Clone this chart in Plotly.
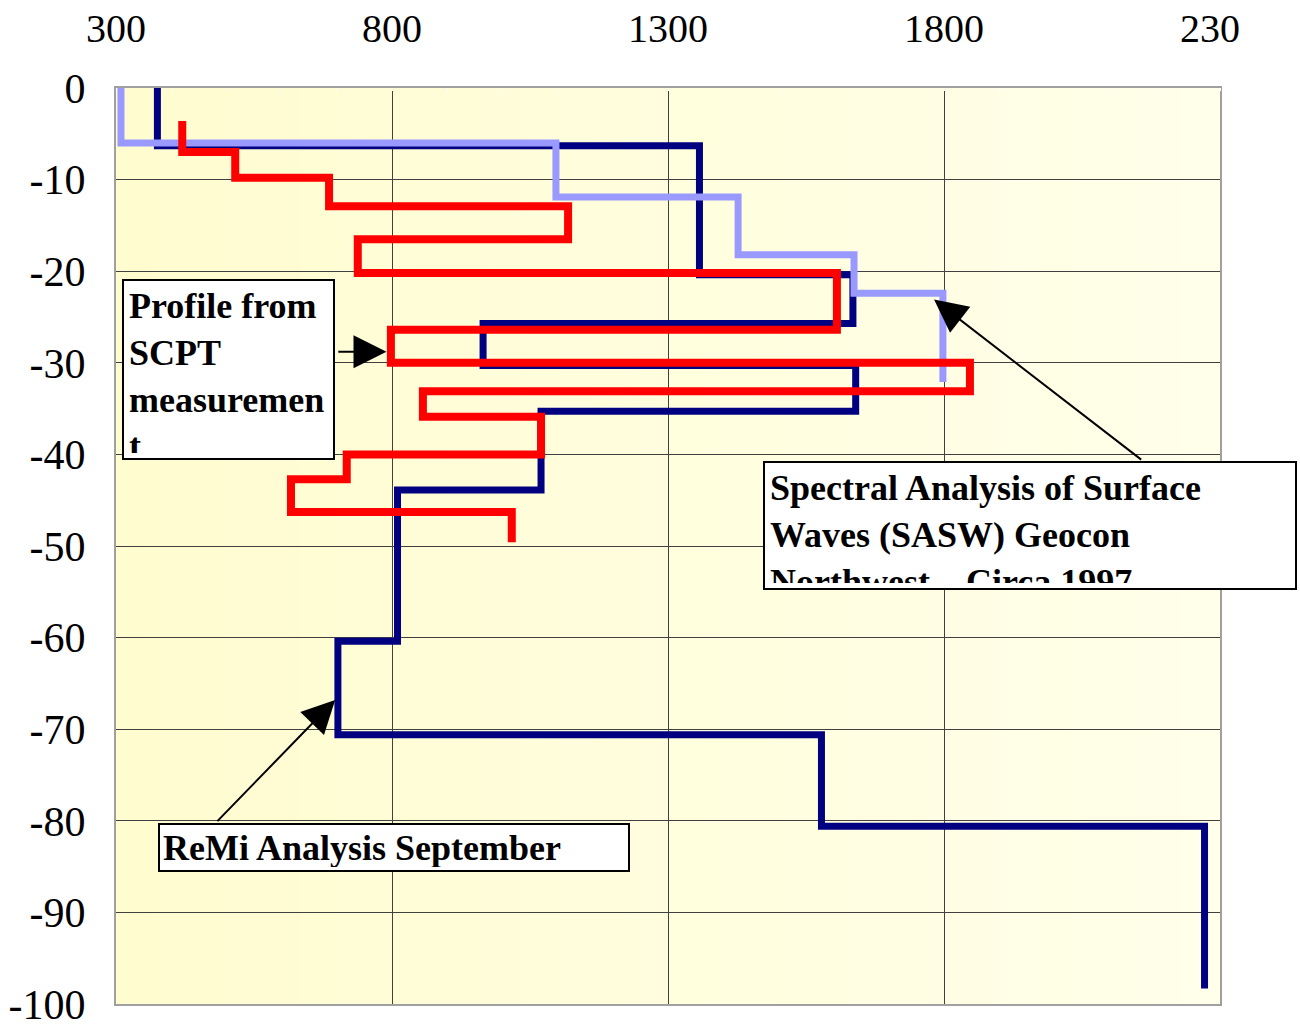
import plotly.graph_objects as go

# ---- data (velocity in x, depth in y) ----
remi_x = [375, 375, 1357, 1357, 1635, 1635, 965, 965, 1640, 1640, 1070, 1070, 810, 810, 702, 702, 1578, 1578, 2272, 2272]
remi_y = [0, -6.3, -6.3, -20.4, -20.4, -25.7, -25.7, -30.3, -30.3, -35.3, -35.3, -43.9, -43.9, -60.4, -60.4, -70.6, -70.6, -80.6, -80.6, -98.3]

sasw_x = [309, 309, 1097, 1097, 1427, 1427, 1637, 1637, 1798, 1798]
sasw_y = [0, -6.0, -6.0, -11.9, -11.9, -18.2, -18.2, -22.4, -22.4, -32.1]

scpt_x = [420, 420, 516, 516, 686, 686, 1119, 1119, 738, 738, 1606, 1606, 798, 798, 1847, 1847, 856, 856, 1070, 1070, 718, 718, 617, 617, 1017, 1017]
scpt_y = [-3.6, -7.0, -7.0, -9.8, -9.8, -12.9, -12.9, -16.5, -16.5, -20.2, -20.2, -26.4, -26.4, -30.0, -30.0, -33.1, -33.1, -35.9, -35.9, -40.0, -40.0, -42.7, -42.7, -46.3, -46.3, -49.6]

x_ticks = [300, 800, 1300, 1800, 2300]
x_ticklabels = ["300", "800", "1300", "1800", "2300"]
y_ticks = [0, -10, -20, -30, -40, -50, -60, -70, -80, -90, -100]
y_ticklabels = ["0", "-10", "-20", "-30", "-40", "-50", "-60", "-70", "-80", "-90", "-100"]

label_scpt = "<b>Profile from<br>SCPT<br>measuremen<br>t</b>"
label_sasw = "<b>Spectral Analysis of Surface<br>Waves (SASW) Geocon<br>Northwest    Circa 1997</b>"
label_remi = "<b>ReMi Analysis September</b>"

FONT = "Liberation Serif, Times New Roman, serif"

fig = go.Figure()
fig.add_trace(go.Scatter(x=remi_x, y=remi_y, mode="lines",
                         line=dict(color="#000080", width=7), name="ReMi"))
fig.add_trace(go.Scatter(x=sasw_x, y=sasw_y, mode="lines",
                         line=dict(color="#9999FF", width=7), name="SASW"))
fig.add_trace(go.Scatter(x=scpt_x, y=scpt_y, mode="lines",
                         line=dict(color="#FF0000", width=8), name="SCPT"))

# background gradient strips (plot area)
shapes = []
n = 30
c0 = (255, 252, 208)
c1 = (255, 255, 234)
for i in range(n):
    t = i / (n - 1)
    col = tuple(round(c0[k] + (c1[k] - c0[k]) * t) for k in range(3))
    shapes.append(dict(type="rect", xref="x domain", yref="y domain",
                       x0=i / n, x1=(i + 1) / n + 0.002, y0=0, y1=1,
                       fillcolor="rgb(%d,%d,%d)" % col, line=dict(width=0),
                       layer="below"))
# crop the last tick label like the reference image
shapes.append(dict(type="rect", xref="paper", yref="paper",
                   x0=1.0175, x1=1.06, y0=1.03, y1=1.1,
                   fillcolor="white", line=dict(width=0), layer="above"))

annotations = [
    dict(text=label_scpt, xref="x", yref="y", x=311, y=-20.85,
         xanchor="left", yanchor="top", showarrow=False, align="left", valign="top",
         width=199, height=167, bgcolor="white", bordercolor="black",
         borderwidth=2, borderpad=5, font=dict(family=FONT, size=36, color="black")),
    dict(text=label_sasw, xref="x", yref="y", x=1472, y=-40.7,
         xanchor="left", yanchor="top", showarrow=False, align="left", valign="top",
         width=520, height=115, bgcolor="white", bordercolor="black",
         borderwidth=2, borderpad=5, font=dict(family=FONT, size=36, color="black")),
    dict(text=label_remi, xref="x", yref="y", x=376, y=-80.2,
         xanchor="left", yanchor="top", showarrow=False, align="left", valign="middle",
         width=462, height=39, bgcolor="white", bordercolor="black",
         borderwidth=2, borderpad=3, font=dict(family=FONT, size=36, color="black")),
    # arrows
    dict(text="", xref="x", yref="y", axref="x", ayref="y",
         x=790, y=-28.8, ax=700, ay=-28.8, showarrow=True,
         arrowhead=2, arrowsize=3.3, arrowwidth=2, arrowcolor="black", standoff=0),
    dict(text="", xref="x", yref="y", axref="x", ayref="y",
         x=1782, y=-23.1, ax=2160, ay=-40.7, showarrow=True,
         arrowhead=2, arrowsize=3.3, arrowwidth=2, arrowcolor="black", standoff=0),
    dict(text="", xref="x", yref="y", axref="x", ayref="y",
         x=697, y=-66.8, ax=481, ay=-80.2, showarrow=True,
         arrowhead=2, arrowsize=3.3, arrowwidth=2, arrowcolor="black", standoff=0),
]

fig.update_layout(
    width=1300, height=1032,
    margin=dict(l=116, r=80, t=88, b=28, pad=0),
    paper_bgcolor="white",
    plot_bgcolor="#FFFFE0",
    showlegend=False,
    shapes=shapes,
    annotations=annotations,
    font=dict(family=FONT, color="black"),
)
fig.update_xaxes(
    range=[300, 2300], side="top",
    tickvals=x_ticks, ticktext=x_ticklabels,
    tickfont=dict(family=FONT, size=40, color="black"),
    ticks="", ticklabelstandoff=28, automargin=False,
    showgrid=True, gridcolor="#404040", gridwidth=1,
    zeroline=False,
    showline=True, linecolor="#A0A0A0", linewidth=2, mirror=True,
    minor=dict(dtick=100, tick0=300, ticks="inside", ticklen=3, tickcolor="white", tickwidth=1, showgrid=False),
    fixedrange=True,
)
fig.update_yaxes(
    range=[-100, 0],
    tickvals=y_ticks, ticktext=y_ticklabels,
    tickfont=dict(family=FONT, size=42, color="black"),
    ticks="", ticklabelstandoff=20, automargin=False,
    showgrid=True, gridcolor="#404040", gridwidth=1,
    zeroline=False,
    showline=True, linecolor="#A0A0A0", linewidth=2, mirror=True,
    fixedrange=True,
)

fig.write_html("out.html", config=dict(displayModeBar=False),
               post_script="document.body.style.margin='0';document.body.style.overflow='hidden';")
